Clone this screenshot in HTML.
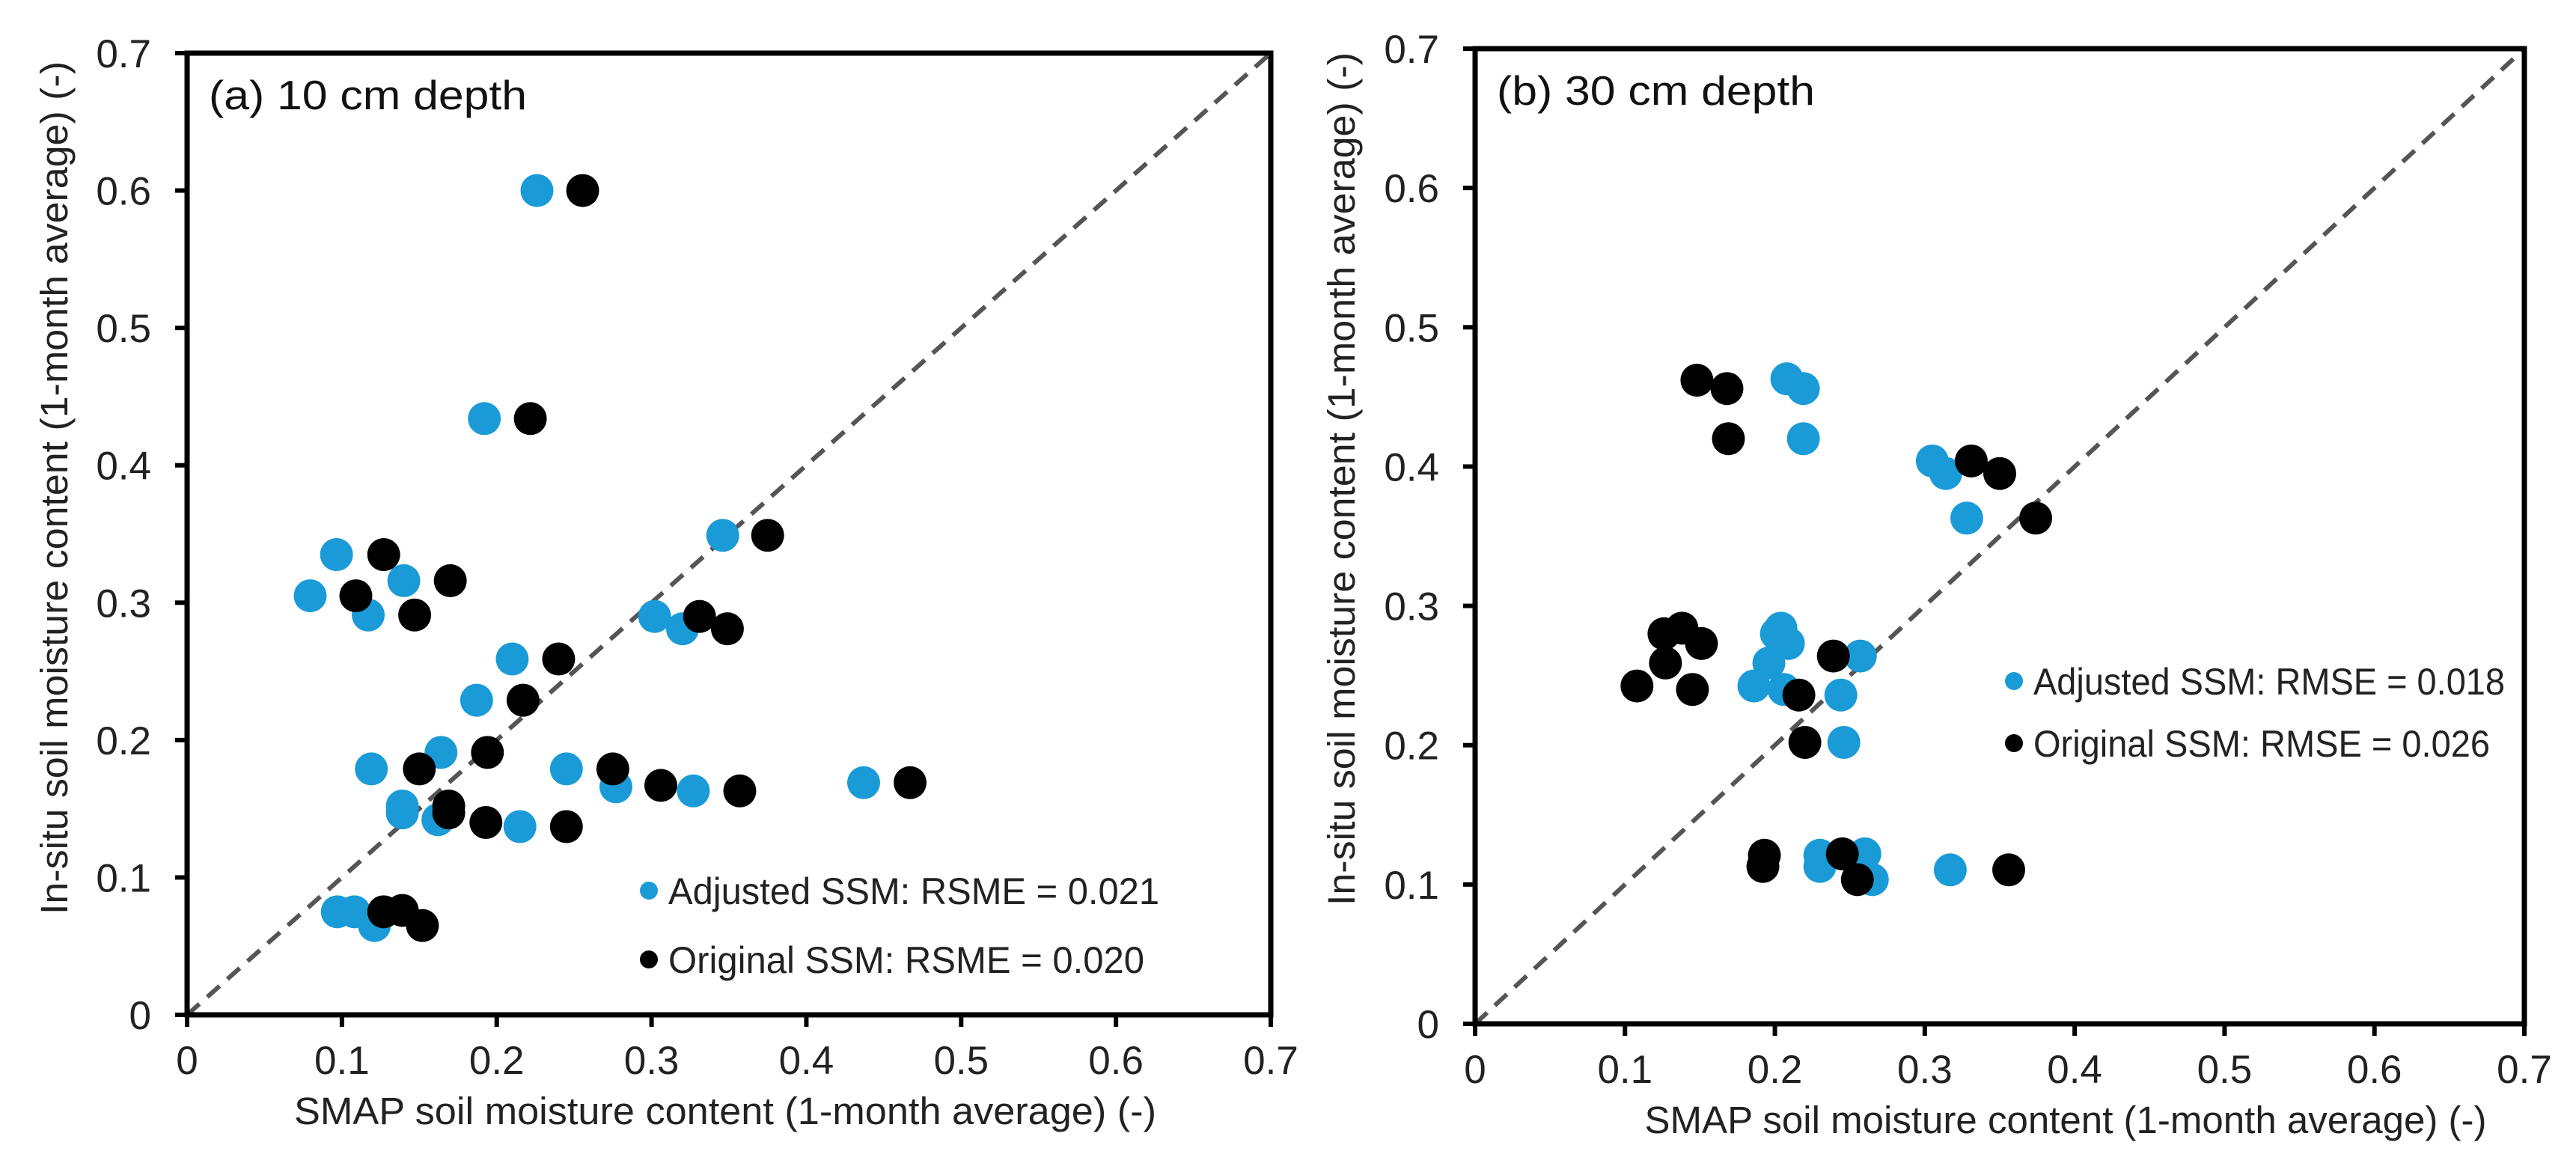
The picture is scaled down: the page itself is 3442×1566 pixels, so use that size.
<!DOCTYPE html>
<html><head><meta charset="utf-8"><style>
html,body{margin:0;padding:0;background:#fff;}
svg{display:block;font-family:"Liberation Sans",Arial,sans-serif;}
</style></head><body>
<svg id="chart" width="3442" height="1566" viewBox="0 0 3442 1566"></svg>
<script>
const ticks = [0, 0.1, 0.2, 0.3, 0.4, 0.5, 0.6, 0.7];
const tickLabels = ["0", "0.1", "0.2", "0.3", "0.4", "0.5", "0.6", "0.7"];
const aAdjX = [0.226,0.192,0.346,0.0965,0.0795,0.140,0.117,0.302,0.320,0.210,0.187,0.164,0.119,0.245,0.277,0.327,0.437,0.139,0.139,0.162,0.215,0.097,0.108,0.121];
const aAdjY = [0.600,0.434,0.349,0.335,0.305,0.316,0.291,0.290,0.281,0.259,0.229,0.191,0.179,0.179,0.166,0.163,0.169,0.152,0.147,0.142,0.137,0.075,0.075,0.065];
const aOrigX = [0.2555,0.2217,0.375,0.127,0.109,0.170,0.147,0.331,0.349,0.240,0.217,0.194,0.150,0.275,0.306,0.357,0.467,0.169,0.169,0.193,0.245,0.127,0.139,0.152];
const aOrigY = [0.600,0.434,0.349,0.335,0.305,0.316,0.291,0.290,0.281,0.259,0.229,0.191,0.179,0.179,0.167,0.163,0.169,0.152,0.147,0.140,0.137,0.075,0.076,0.065];
const bAdjX = [0.208,0.219,0.219,0.305,0.314,0.328,0.201,0.204,0.209,0.196,0.257,0.186,0.206,0.244,0.246,0.230,0.230,0.260,0.265,0.317];
const bAdjY = [0.463,0.456,0.420,0.404,0.395,0.363,0.280,0.284,0.273,0.259,0.264,0.2425,0.240,0.236,0.202,0.121,0.113,0.122,0.1035,0.1105];
const bOrigX = [0.148,0.168,0.169,0.331,0.350,0.374,0.126,0.138,0.151,0.127,0.239,0.108,0.145,0.216,0.220,0.193,0.192,0.245,0.255,0.356];
const bOrigY = [0.462,0.456,0.420,0.404,0.395,0.363,0.280,0.284,0.273,0.259,0.264,0.2425,0.240,0.236,0.202,0.121,0.113,0.122,0.1035,0.1105];

const NS = "http://www.w3.org/2000/svg";
const svg = document.getElementById("chart");
function mk(tag, attrs, parent, text){
  const e = document.createElementNS(NS, tag);
  for (const k in attrs) e.setAttribute(k, attrs[k]);
  if (text !== undefined) e.textContent = text;
  (parent || svg).appendChild(e);
  return e;
}

function panel(cfg){
  const g = mk("g", {});
  
  
  const sx = v => cfg.x0 + (cfg.x1 - cfg.x0) * v / 0.7;
  const sy = v => cfg.y0 - (cfg.y0 - cfg.y1) * v / 0.7;
  const d = mk("line", {x1: sx(0), y1: sy(0), x2: sx(0.7), y2: sy(0.7), stroke: "#555", "stroke-width": 6, "stroke-dasharray": "22 14"}, g);
  
  
  const drawPts = (xs, ys, color, nm) => {
    for (let i = 0; i < xs.length; i++) {
      const c = mk("circle", {cx: sx(xs[i]), cy: sy(ys[i]), r: 22, fill: color}, g);
      
      
    }
  };
  drawPts(cfg.adjX, cfg.adjY, "#1a9bd7", "adjusted-point");
  drawPts(cfg.origX, cfg.origY, "#000", "original-point");
  const fr = mk("rect", {x: cfg.x0, y: cfg.y1, width: cfg.x1 - cfg.x0, height: cfg.y0 - cfg.y1, fill: "none", stroke: "#000", "stroke-width": 7}, g);
  
  
  for (let i = 0; i < ticks.length; i++) {
    const tx = sx(ticks[i]), ty = sy(ticks[i]);
    mk("line", {x1: tx, y1: cfg.y0, x2: tx, y2: cfg.y0 + 16, stroke: "#000", "stroke-width": 6}, g);
    mk("line", {x1: cfg.x0 - 16, y1: ty, x2: cfg.x0, y2: ty, stroke: "#000", "stroke-width": 6}, g);
    const xl = mk("text", {x: tx, y: cfg.y0 + 79, "text-anchor": "middle", "font-size": 53, fill: "#222"}, g, tickLabels[i]);
    
    
    const yl = mk("text", {x: cfg.x0 - 48, y: ty + 19, "text-anchor": "end", "font-size": 53, fill: "#222"}, g, tickLabels[i]);
    
    
  }
  const xt = mk("text", {x: cfg.xtX, y: cfg.y0 + 146, "text-anchor": "middle", "font-size": 51, fill: "#222", textLength: cfg.xtW, lengthAdjust: "spacingAndGlyphs"}, g, "SMAP soil moisture content (1-month average) (-)");
  
  
  const yt = mk("text", {x: 0, y: 0, "text-anchor": "middle", "font-size": 51, fill: "#222", textLength: 1140, lengthAdjust: "spacingAndGlyphs", transform: `translate(${cfg.ytX},${cfg.ytY}) rotate(-90)`}, g, "In-situ soil moisture content (1-month average) (-)");
  
  
  const pl = mk("text", {x: cfg.x0 + 29, y: cfg.y1 + 75, "font-size": 55, fill: "#111", textLength: 425, lengthAdjust: "spacingAndGlyphs"}, g, cfg.label);
  
  
  const lg = mk("g", {}, g);
  
  
  const e1 = mk("circle", {cx: cfg.lgX, cy: cfg.lgY1, r: 12, fill: "#1a9bd7"}, lg);
  
  
  const t1 = mk("text", {x: cfg.lgX + 26, y: cfg.lgY1 + 18, "font-size": 50, fill: "#222", textLength: cfg.lgW, lengthAdjust: "spacingAndGlyphs"}, lg, cfg.leg1);
  
  
  const e2 = mk("circle", {cx: cfg.lgX, cy: cfg.lgY2, r: 12, fill: "#000"}, lg);
  
  
  const t2 = mk("text", {x: cfg.lgX + 26, y: cfg.lgY2 + 18, "font-size": 50, fill: "#222", textLength: cfg.lgW2, lengthAdjust: "spacingAndGlyphs"}, lg, cfg.leg2);
  
  
}

panel({name: "panel-a-10cm", x0: 250, x1: 1698, y0: 1356, y1: 71,
  adjX: aAdjX, adjY: aAdjY, origX: aOrigX, origY: aOrigY,
  xtX: 969, xtW: 1152, ytX: 90, ytY: 652, label: "(a) 10 cm depth",
  lgX: 867, lgY1: 1190, lgY2: 1282, lgW: 656, lgW2: 636,
  leg1: "Adjusted SSM: RSME = 0.021", leg2: "Original SSM: RSME = 0.020"});
panel({name: "panel-b-30cm", x0: 1971, x1: 3373, y0: 1368, y1: 65,
  adjX: bAdjX, adjY: bAdjY, origX: bOrigX, origY: bOrigY,
  xtX: 2760, xtW: 1125, ytX: 1810, ytY: 640, label: "(b) 30 cm depth",
  lgX: 2691, lgY1: 910, lgY2: 993, lgW: 630, lgW2: 610,
  leg1: "Adjusted SSM: RMSE = 0.018", leg2: "Original SSM: RMSE = 0.026"});
</script>
</body></html>
